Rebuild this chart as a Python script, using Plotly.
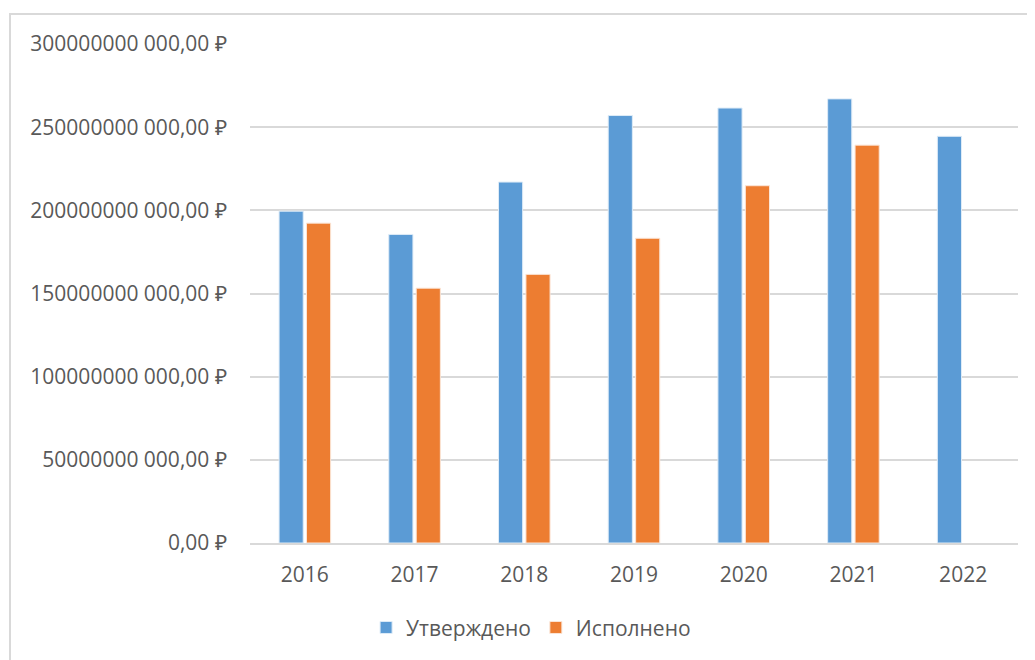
import plotly.graph_objects as go

years = ["2016", "2017", "2018", "2019", "2020", "2021", "2022"]
approved = [199.5e9, 185.5e9, 217.0e9, 257.0e9, 261.5e9, 267.0e9, 244.5e9]
executed = [192.3e9, 153.2e9, 161.5e9, 183.2e9, 214.8e9, 239.2e9, None]
tick_values = [0, 50e9, 100e9, 150e9, 200e9, 250e9, 300e9]
tick_labels = ["0,00 ₽", "50000000 000,00 ₽", "100000000 000,00 ₽", "150000000 000,00 ₽",
               "200000000 000,00 ₽", "250000000 000,00 ₽", "300000000 000,00 ₽"]

FONT = "Open Sans"
GRAY = "#595959"
FS = 21

fig = go.Figure()
fig.add_trace(go.Bar(x=years, y=approved, name="Утверждено",
                     marker=dict(color="#5B9BD5", line=dict(color="#DDEBF7", width=1))))
fig.add_trace(go.Bar(x=years, y=executed, name="Исполнено",
                     marker=dict(color="#ED7D31", line=dict(color="#FBE5D6", width=1))))

# page body has an 8px margin; plot area placed at x 250-1018, y 44-543 of the window
fig.update_layout(
    width=1027, height=652,
    margin=dict(l=242, r=17, t=36, b=117),
    paper_bgcolor="white", plot_bgcolor="white",
    barmode="group", bargap=0.5, bargroupgap=0.12,
    font=dict(family=FONT, size=FS, color=GRAY),
    showlegend=True,
    legend=dict(orientation="h", x=0.366, xanchor="center", y=-0.17, yanchor="middle",
                font=dict(family=FONT, size=FS, color=GRAY), itemwidth=30,
                traceorder="normal"),
    xaxis=dict(showgrid=False, showline=True, linecolor="#D9D9D9", linewidth=2,
               ticks="outside", ticklen=12, tickcolor="rgba(0,0,0,0)",
               tickfont=dict(size=FS, color=GRAY)),
    yaxis=dict(range=[0, 300e9], tickvals=tick_values, ticktext=tick_labels,
               showgrid=True, gridcolor="#D9D9D9", gridwidth=2, zeroline=False,
               showline=False, ticks="outside", ticklen=18, tickcolor="rgba(0,0,0,0)",
               tickfont=dict(size=FS, color=GRAY)),
)
fig.add_shape(type="rect", xref="paper", yref="paper",
              x0=-0.3125, x1=1.1, y0=-0.4, y1=1.0601,
              line=dict(color="#D9D9D9", width=2), fillcolor="rgba(0,0,0,0)", layer="below")

fig.write_html("out.html")
